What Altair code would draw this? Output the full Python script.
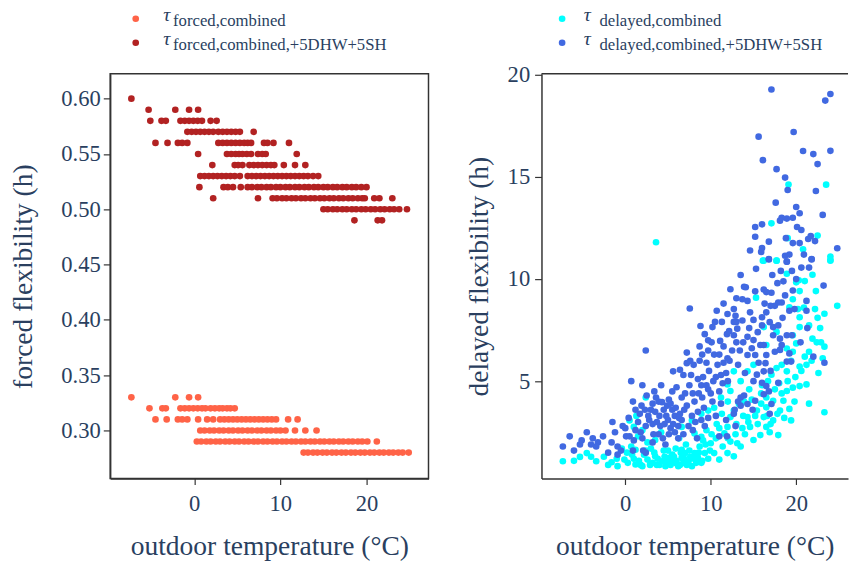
import altair as alt
import pandas as pd

FONT = "Liberation Serif"
TXT = "#2a3f5f"
LINE = "#333333"

# ---------------- left panel data (value -> outdoor temperatures) ----------------
forced_combined = {
    0.33: [-7.3, -2.2, -0.6, 0.45],
    0.32: [-5.2, -3.7, -3.3, -1.6, -1.1, -0.6, -0.1, 0.4, 0.9, 1.3, 1.9, 2.4, 2.9, 3.3, 3.8, 4.2, 4.7],
    0.31: [-4.5, -3.2, -1.9, -1.4, -0.8, 0.45, 1.5, 2.2, 3.0, 3.5, 4.0, 4.5, 5.0, 5.5, 6.0, 6.5,
           7.0, 7.5, 8.0, 8.5, 9.0, 9.5, 10.9, 12.0],
    0.30: [0.7, 1.2, 1.8, 2.3, 2.9, 3.4, 4.0, 4.5, 5.1, 5.6, 6.2, 6.7, 7.3, 7.8, 8.4, 8.9, 9.5,
           10.0, 10.6, 11.7, 12.9, 14.2],
    0.29: [0.3, 0.8, 1.4, 1.9, 2.5, 3.0, 3.6, 4.1, 4.7, 5.2, 5.8, 6.3, 6.9, 7.4, 8.0, 8.5, 9.1,
           9.6, 10.2, 10.7, 11.3, 11.8, 12.4, 12.9, 13.5, 14.0, 14.6, 15.1, 15.7, 16.2, 16.8,
           17.3, 17.9, 18.4, 19.0, 19.5, 20.1, 21.2],
    0.28: [12.7, 13.2, 13.8, 14.3, 14.9, 15.4, 16.0, 16.5, 17.1, 17.6, 18.2, 18.7, 19.3, 19.8,
           20.4, 20.9, 21.5, 22.0, 22.6, 23.1, 23.7, 24.2, 24.9],
}
forced_plus = {
    0.60: [-7.3],
    0.59: [-5.3, -2.2, -0.6, 0.45],
    0.58: [-5.1, -3.8, -3.3, -1.6, -1.1, -0.6, -0.1, 0.4, 0.9, 1.9, 2.6],
    0.57: [-0.8, -0.3, 0.2, 0.7, 1.2, 1.7, 2.2, 2.8, 3.3, 3.8, 4.3, 4.8, 5.3, 6.9],
    0.56: [-4.5, -3.1, -1.9, -1.4, -0.8, 2.8, 3.3, 3.8, 4.3, 4.8, 5.3, 5.8, 6.2, 6.6, 8.1, 8.5, 9.2, 11.0],
    0.55: [0.45, 3.8, 4.3, 4.8, 5.2, 5.6, 6.1, 6.6, 7.4, 7.9, 8.3, 11.9],
    0.54: [2.1, 4.7, 5.1, 5.6, 6.4, 6.9, 7.4, 7.9, 8.4, 8.9, 9.3, 10.4, 11.7, 12.9],
    0.53: [0.7, 1.2, 1.7, 2.2, 2.7, 3.2, 3.7, 4.2, 4.7, 5.3, 6.2, 6.7, 7.2, 7.7, 8.2, 8.7, 9.2,
           9.7, 10.2, 10.7, 11.2, 11.7, 12.2, 12.7, 13.2, 13.8, 14.4],
    0.52: [0.6, 3.4, 3.9, 4.5, 5.4, 6.2, 6.7, 7.3, 7.8, 8.4, 8.9, 9.5, 10.0, 10.6, 11.1, 11.7,
           12.2, 12.8, 13.3, 13.9, 14.4, 15.0, 15.5, 16.1, 16.6, 17.2, 17.7, 18.3, 18.8, 19.4, 20.0],
    0.51: [2.2, 7.4, 9.1, 9.6, 10.2, 10.7, 11.3, 11.8, 12.4, 12.9, 13.5, 14.0, 14.6, 15.1, 15.7,
           16.2, 16.8, 17.3, 17.9, 18.4, 19.0, 19.5, 19.8, 20.9, 21.5, 23.0],
    0.50: [15.0, 15.5, 16.1, 16.6, 17.2, 17.7, 18.3, 18.8, 19.4, 19.9, 20.5, 21.0, 21.6, 22.1,
           22.7, 23.2, 23.8, 24.7],
    0.49: [18.6, 21.3, 21.8],
}

# ---------------- right panel data (temperature, delayed flexibility) ----------------
delayed_combined = [
    (3.6, 11.8), (19.1, 14.63), (23.5, 14.62), (17.1, 12.73), (22.5, 12.13), (20.8, 11.46),
    (16.1, 10.9), (17.7, 10.9), (24.0, 11.1), (24.0, 10.9),
    (-7.3, 1.08), (-5.3, 1.29), (-4.5, 1.48), (-3.4, 1.08), (-1.6, 1.03), (-0.9, 0.84),
    (-0.1, 1.16), (0.8, 1.4), (1.2, 0.92), (2.0, 0.84), (2.6, 1.16), (3.2, 1.0), (3.5, 1.32),
    (4.3, 1.08), (4.7, 0.84), (5.1, 1.24), (5.5, 1.4), (5.8, 1.0), (6.2, 0.84), (6.6, 1.24),
    (7.0, 1.48), (7.4, 1.08), (7.8, 0.84), (8.1, 1.48), (8.5, 1.24), (8.9, 1.0), (9.3, 1.48),
    (1.2, 1.64), (0.7, 1.8), (0.5, 3.08), (1.0, 2.76), (2.4, 4.2), (3.5, 2.12), (6.6, 1.64),
    (8.9, 2.28), (9.5, 2.6), (10.0, 1.96), (10.4, 1.48), (11.0, 1.16), (11.96, 1.48),
    (12.7, 1.32), (13.1, 1.96), (13.5, 1.8), (12.3, 2.04), (11.6, 2.44), (11.96, 2.76),
    (12.3, 3.24), (12.7, 3.56), (13.3, 3.88), (14.3, 3.24), (14.6, 2.76), (15.0, 2.12),
    (15.8, 2.36), (16.5, 2.76), (16.2, 3.24), (15.4, 3.56), (16.5, 3.72), (17.3, 4.04),
    (18.1, 3.56), (18.5, 4.04), (18.9, 4.52), (19.2, 3.64), (19.4, 3.08), (17.9, 2.36),
    (17.3, 3.08), (16.5, 4.2), (16.7, 5.0), (17.1, 5.32), (17.7, 5.64), (18.3, 5.8),
    (18.9, 5.48), (19.6, 4.68), (20.4, 4.76), (21.2, 4.84), (20.4, 5.72), (19.6, 6.44),
    (20.0, 6.85), (19.6, 7.25), (20.4, 7.65), (21.5, 7.73), (21.9, 7.08), (21.5, 6.44),
    (20.4, 8.13), (20.2, 8.53), (19.6, 9.01), (20.4, 9.41), (22.3, 9.41), (21.9, 10.21),
    (20.3, 9.94), (20.0, 9.84), (18.9, 10.26), (24.8, 8.69), (22.2, 8.53), (19.2, 8.61),
    (15.3, 9.09), (16.2, 7.65), (17.7, 7.41), (16.5, 6.77), (15.0, 5.8), (14.3, 5.48),
    (13.5, 5.0), (12.3, 4.52), (11.2, 4.2), (9.7, 3.56), (8.9, 3.4), (7.8, 3.08), (6.6, 2.76),
    (8.1, 2.44), (12.7, 5.48), (11.96, 4.84), (23.3, 3.48), (23.3, 6.69), (23.1, 6.12),
    (21.2, 5.8), (18.9, 6.6), (16.2, 10.9), (17.7, 10.9), (24.0, 10.93),
    (-2.5, 1.3), (-1.0, 1.2), (0.3, 1.0), (1.6, 1.1), (2.2, 1.4), (2.9, 0.9), (3.8, 1.2),
    (4.0, 0.9), (4.9, 1.1), (5.3, 0.9), (5.7, 1.3), (6.0, 1.1), (6.4, 0.9), (6.9, 1.2),
    (7.2, 0.9), (7.6, 1.3), (8.3, 1.0), (3.0, 1.7), (4.5, 1.6), (5.9, 1.7), (2.6, 2.0),
    (1.5, 2.3), (4.2, 2.5), (6.3, 2.2), (7.1, 1.9), (8.7, 1.8), (9.7, 1.2), (9.1, 2.1),
    (10.7, 2.9), (11.3, 3.4), (10.4, 3.7), (12.0, 4.0), (13.8, 3.3), (14.0, 2.4), (13.0, 2.9),
    (15.5, 2.9), (16.9, 2.5), (17.5, 4.6), (18.6, 3.2), (19.8, 4.0), (21.5, 3.9), (22.6, 5.4),
    (22.9, 6.9), (23.3, 8.3), (22.5, 8.1), (21.0, 9.9), (19.0, 12.0), (14.5, 4.6), (15.9, 4.4),
    (0.2, 1.5), (1.0, 1.2), (1.8, 0.9), (2.4, 1.6), (3.4, 1.5), (3.7, 0.9), (4.6, 1.3),
    (5.0, 1.6), (5.6, 1.1), (6.5, 1.5), (6.8, 1.0), (7.5, 1.6), (8.0, 1.2), (8.6, 1.5),
    (9.0, 1.1), (9.9, 1.6), (10.6, 2.2), (11.4, 1.8), (12.0, 2.2), (12.9, 2.4), (13.7, 2.7),
    (14.4, 3.0), (15.2, 3.3), (15.9, 3.9), (16.6, 3.3), (17.0, 2.9), (17.8, 3.4), (18.3, 4.4),
    (19.0, 5.0), (19.9, 5.2), (20.6, 5.5), (21.0, 6.2), (21.8, 6.0), (22.4, 6.9), (22.8, 7.6),
    (20.9, 8.6), (19.4, 6.0), (18.0, 4.9), (16.0, 4.8), (14.8, 4.1), (13.9, 4.0), (11.0, 2.7),
    (10.1, 2.4), (9.4, 1.9), (2.0, 2.6), (1.3, 3.3), (-0.4, 1.7), (-2.0, 0.9), (-4.0, 1.3),
    (-6.0, 1.1),
]
delayed_plus = [
    (17.1, 19.28), (24.0, 19.06), (23.4, 18.74), (19.7, 17.2), (15.6, 16.97), (20.8, 16.27),
    (22.0, 16.12), (24.0, 16.28), (16.1, 15.82), (22.5, 15.63), (17.7, 15.38), (18.7, 14.97),
    (19.0, 14.36), (22.3, 14.31), (17.6, 13.74), (20.0, 13.53), (20.4, 13.22), (23.1, 13.14),
    (19.6, 13.0), (18.9, 12.96), (18.3, 13.0), (18.1, 12.86), (16.0, 12.68), (15.2, 12.55),
    (20.1, 12.55), (15.2, 12.07), (16.8, 11.83), (19.6, 11.76), (20.4, 11.76), (21.4, 11.96),
    (22.2, 11.86), (16.0, 11.52), (15.9, 11.33), (24.8, 11.51), (16.8, 10.98), (18.9, 10.85),
    (18.7, 11.14), (21.8, 10.98),
    (-7.3, 1.8), (-5.3, 1.9), (-5.1, 2.1), (-4.5, 2.5), (-3.8, 2.2), (-3.2, 2.0), (-3.4, 1.8),
    (-1.6, 2.0), (-0.9, 1.8), (-0.5, 1.6), (-0.9, 1.4), (0.1, 2.3), (0.5, 2.3), (-1.5, 3.0),
    (0.9, 4.0), (1.2, 3.6), (1.9, 3.8), (1.7, 3.4), (2.3, 3.6), (0.7, 5.0), (2.0, 4.8),
    (2.4, 6.5), (4.2, 4.8), (3.6, 4.2), (3.2, 3.9), (3.0, 3.6), (3.2, 2.9), (2.4, 2.8),
    (1.2, 2.6), (0.9, 1.6), (2.1, 1.6), (2.4, 1.5),
    (4.3, 3.97), (4.5, 3.6), (5.1, 4.1), (5.5, 3.6), (5.8, 3.3), (5.0, 3.1), (4.1, 2.8),
    (5.3, 2.7), (6.2, 2.8), (3.9, 2.4), (5.1, 2.4), (6.2, 2.2), (3.2, 2.0), (4.7, 1.9),
    (7.2, 3.8), (7.8, 3.3), (6.6, 3.1), (7.4, 2.8), (8.5, 3.5), (8.1, 4.0), (8.9, 3.1),
    (9.3, 2.8), (9.7, 3.2), (3.5, 3.5), (5.5, 4.5),
    (5.6, 5.48), (6.4, 5.56), (7.2, 5.88), (7.6, 6.0), (7.9, 4.4), (6.6, 4.2), (8.5, 5.1),
    (9.1, 5.2), (8.9, 4.8), (9.7, 4.6), (10.0, 4.4), (7.7, 5.3), (8.7, 6.0), (9.5, 5.9),
    (10.4, 6.3), (9.7, 6.5), (11.0, 6.3), (10.6, 5.2), (11.2, 5.3), (11.8, 5.4), (11.4, 4.9),
    (11.0, 4.5), (10.2, 4.0), (11.2, 3.9), (11.8, 3.1), (11.0, 2.3), (11.9, 2.3), (12.9, 2.8),
    (12.7, 3.4), (13.2, 4.0), (13.5, 3.8), (13.9, 4.3),
    (7.55, 8.56), (8.8, 7.7), (10.2, 7.65), (10.7, 8.45), (9.7, 7.0), (8.7, 6.7), (11.1, 6.97),
    (11.9, 7.3), (12.15, 7.45), (12.7, 7.25), (11.96, 6.12), (12.7, 7.9), (13.0, 6.9),
    (11.96, 8.29), (12.7, 8.53), (13.7, 7.97), (13.1, 7.57), (14.3, 7.17), (14.8, 6.61),
    (14.3, 6.28), (15.2, 6.28), (15.8, 6.77), (14.6, 8.37), (14.3, 8.93), (13.7, 9.01),
    (13.0, 9.06), (13.9, 9.62), (15.0, 7.01), (16.2, 6.77), (16.5, 6.28), (16.4, 5.88),
    (16.2, 5.48), (15.4, 5.32), (15.0, 5.0), (16.0, 4.92), (16.5, 4.76), (15.2, 4.04),
    (14.3, 3.88), (13.5, 4.2), (16.2, 4.36), (17.1, 3.88), (16.9, 3.4), (17.9, 4.92),
    (17.3, 7.25), (18.1, 7.08), (18.3, 6.77), (19.2, 6.36), (19.4, 5.96), (18.9, 5.96),
    (18.1, 6.53), (17.5, 6.44), (16.9, 7.89), (17.3, 7.65), (17.9, 7.73), (18.9, 7.25),
    (19.5, 7.25), (19.8, 8.53), (19.2, 8.45), (16.0, 7.73), (16.5, 8.37), (16.0, 8.13),
    (17.5, 8.69), (18.3, 8.85), (17.9, 8.85), (17.0, 8.69), (17.1, 9.33), (16.2, 9.49),
    (16.5, 9.36), (21.2, 8.93), (21.2, 8.45), (23.3, 5.9), (23.2, 9.68), (20.6, 10.56),
    (21.5, 10.56), (18.5, 9.89), (18.9, 10.85), (16.8, 10.96), (21.8, 10.96), (18.7, 9.2),
    (19.6, 9.44),
    (-6.5, 2.3), (-2.0, 1.5), (-0.3, 2.8), (0.4, 3.2), (1.0, 2.1), (1.8, 2.5), (2.8, 3.1),
    (3.3, 2.4), (4.8, 3.3), (5.6, 2.9), (6.8, 2.4), (7.9, 2.6), (8.4, 2.2), (9.0, 4.2),
    (3.9, 4.0), (2.5, 4.3), (6.0, 4.7), (6.8, 5.3), (8.0, 5.8), (7.2, 6.4), (9.3, 7.3),
    (10.5, 7.9), (11.5, 8.8), (12.3, 9.5), (13.5, 10.2), (14.6, 11.4), (15.3, 10.5),
    (12.2, 6.0), (13.4, 6.5), (14.0, 5.4), (15.6, 5.9), (17.0, 5.5), (18.4, 8.1),
    (19.5, 10.4), (20.6, 12.4), (21.7, 12.1), (20.5, 6.9), (21.3, 7.6), (22.0, 6.2),
    (16.8, 4.5), (14.9, 3.6), (12.8, 3.6), (10.6, 3.3), (9.8, 5.5), (11.5, 6.7), (13.0, 7.9),
    (1.5, 3.0), (2.7, 3.3), (3.4, 4.5), (4.0, 3.3), (4.4, 2.2), (4.9, 3.8), (5.3, 3.9),
    (5.9, 3.7), (6.4, 3.4), (6.9, 3.6), (7.0, 4.4), (7.5, 4.8), (8.2, 3.0), (8.6, 4.4),
    (9.2, 3.7), (9.5, 4.8), (10.3, 5.0), (10.8, 5.8), (11.5, 5.9), (12.0, 5.0), (12.5, 6.5),
    (13.2, 5.8), (13.8, 6.9), (14.5, 7.6), (15.0, 8.0), (15.5, 7.4), (16.3, 8.8), (17.2, 10.2),
    (17.8, 9.8), (18.2, 10.4), (18.8, 12.0), (19.2, 11.2), (20.0, 10.0), (20.9, 11.2),
    (14.1, 9.6), (15.2, 9.4), (12.9, 8.2), (11.3, 7.9), (10.1, 6.9), (9.0, 6.3), (6.3, 3.2),
    (5.8, 2.5), (4.6, 2.9), (3.7, 3.0), (2.0, 2.2), (0.0, 2.7), (-1.2, 2.5), (-2.6, 2.3),
    (-4.0, 1.9), (-6.0, 1.6),
]

left_series = ["forced,combined", "forced,combined,+5DHW+5SH"]
left_colors = ["#FF6347", "#B22222"]
right_series = ["delayed,combined", "delayed,combined,+5DHW+5SH"]
right_colors = ["#00FFFF", "#4169E1"]

x_ticks = [0, 10, 20]
left_y_ticks = [0.30, 0.35, 0.40, 0.45, 0.50, 0.55, 0.60]
right_y_ticks = [5, 10, 15, 20]

LW, LH = 324, 412
RW = 312
LABEL_FS = 23
TITLE_FS = 28

rows = []
for name, d in zip(left_series, [forced_combined, forced_plus]):
    for v, temps in d.items():
        for t in temps:
            rows.append({"temp": t, "flex": v, "series": name})
left_df = pd.DataFrame(rows)

rows = []
for name, d in zip(right_series, [delayed_combined, delayed_plus]):
    for t, v in d:
        rows.append({"temp": t, "flex": v, "series": name})
right_df = pd.DataFrame(rows)

PT_SIZE = 46


def legend_layers(names, colors, x_pt, x_tau, x_sub):
    layers = []
    for i, (nm, c) in enumerate(zip(names, colors)):
        d = pd.DataFrame({"sub": [nm]})
        off = 24.4 * i
        layers.append(alt.Chart(d).mark_circle(size=PT_SIZE, color=c, opacity=1).encode(
            x=alt.value(x_pt), y=alt.value(-56 + off)))
        layers.append(alt.Chart(d).mark_text(
            text="τ", font=FONT, fontSize=20, fontStyle="italic", align="left",
            baseline="alphabetic", color=TXT).encode(x=alt.value(x_tau), y=alt.value(-54 + off)))
        layers.append(alt.Chart(d).mark_text(
            font=FONT, fontSize=17, align="left", baseline="alphabetic", color=TXT).encode(
            x=alt.value(x_sub), y=alt.value(-49 + off), text="sub:N"))
    return layers


def x_axis():
    return alt.Axis(values=x_ticks, title="outdoor temperature (°C)", grid=False,
                    labelFont=FONT, labelFontSize=LABEL_FS, labelColor=TXT, labelPadding=8,
                    titleFont=FONT, titleFontSize=TITLE_FS, titleColor=TXT, titleFontWeight="normal",
                    titlePadding=18, tickColor=LINE, tickSize=6, tickWidth=1.2,
                    domainColor=LINE, domainWidth=1.5)


left_pts = alt.Chart(left_df).mark_circle(size=PT_SIZE, opacity=1).encode(
    x=alt.X("temp:Q", scale=alt.Scale(domain=[-9.76, 27.2], nice=False, zero=False), axis=x_axis()),
    y=alt.Y("flex:Q", scale=alt.Scale(domain=[0.2565, 0.6225], nice=False, zero=False),
            axis=alt.Axis(values=left_y_ticks, format=".2f", title="forced flexibility (h)",
                          grid=False, labelFont=FONT, labelFontSize=LABEL_FS, labelColor=TXT,
                          labelPadding=3, titleFont=FONT, titleFontSize=TITLE_FS, titleColor=TXT,
                          titleFontWeight="normal", titlePadding=24, tickColor=LINE,
                          tickSize=7, tickWidth=1.2, domainColor=LINE, domainWidth=1.5)),
    color=alt.Color("series:N", scale=alt.Scale(domain=left_series, range=left_colors), legend=None),
)

left = alt.layer(left_pts, *legend_layers(left_series, left_colors, 26, 54, 64)).properties(
    width=LW, height=LH, view=alt.ViewBackground(stroke=LINE, strokeWidth=1.5))

right_pts = alt.Chart(right_df).mark_circle(size=PT_SIZE, opacity=1).encode(
    x=alt.X("temp:Q", scale=alt.Scale(domain=[-9.8, 26.06], nice=False, zero=False), axis=x_axis()),
    y=alt.Y("flex:Q", scale=alt.Scale(domain=[0.23, 20.05], nice=False, zero=False),
            axis=alt.Axis(values=right_y_ticks, title="delayed flexibility (h)",
                          grid=False, labelFont=FONT, labelFontSize=LABEL_FS, labelColor=TXT,
                          labelPadding=5, titleFont=FONT, titleFontSize=TITLE_FS, titleColor=TXT,
                          titleFontWeight="normal", titlePadding=14, tickColor=LINE,
                          tickSize=7, tickWidth=1.2, domainColor=LINE, domainWidth=1.5)),
    color=alt.Color("series:N", scale=alt.Scale(domain=right_series, range=right_colors), legend=None),
)

top_border = alt.Chart(pd.DataFrame({"b": [0]})).mark_rule(color=LINE, strokeWidth=1.5).encode(
    x=alt.value(0), x2=alt.value(RW), y=alt.value(0))

right = alt.layer(right_pts, top_border, *legend_layers(right_series, right_colors, 21, 43, 59)).properties(
    width=RW, height=LH, view=alt.ViewBackground(stroke=None))

chart = alt.hconcat(left, right, spacing=37).resolve_scale(color="independent").configure(
    background="white", padding={"left": 1, "top": -9, "right": 0, "bottom": 0})

chart.save("out.html", embed_options={"renderer": "svg", "actions": False})
